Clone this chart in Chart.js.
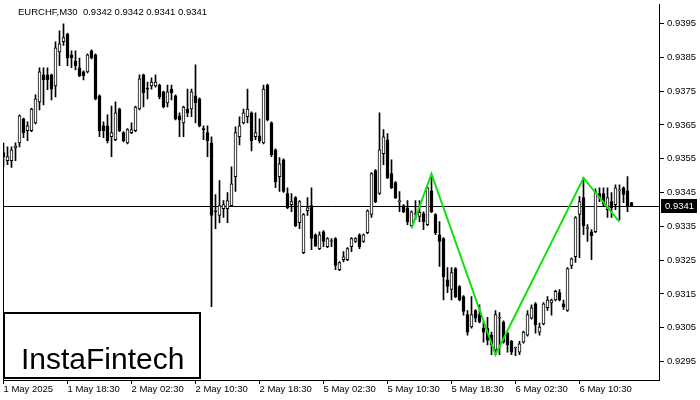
<!DOCTYPE html>
<html>
<head>
<meta charset="utf-8">
<script src="https://cdn.jsdelivr.net/npm/chart.js@4.4.1/dist/chart.umd.min.js"></script>
<style>
  html, body { margin: 0; padding: 0; background: #fff; }
  #wrap { width: 700px; height: 400px; }
</style>
</head>
<body>
<div id="wrap"><canvas id="chart" width="700" height="400"></canvas></div>
<script>
const symbol = 'EURCHF,M30';
const logoText = 'InstaFintech';

// one label every 16 bars (8 hours of M30)
const tickLabels = ['1 May 2025', '1 May 18:30', '2 May 02:30', '2 May 10:30', '2 May 18:30',
  '5 May 02:30', '5 May 10:30', '5 May 18:30', '6 May 02:30', '6 May 10:30'];
const labelStep = 16;
const priceTicks = [0.9295, 0.9305, 0.9315, 0.9325, 0.9335, 0.9345, 0.9355, 0.9365, 0.9375, 0.9385, 0.9395];

const opens = [
  0.93568, 0.93544, 0.93544, 0.93582, 0.93597, 0.93668, 0.93633, 0.93633, 0.93656, 0.93718,
  0.93798, 0.93798, 0.93798, 0.93765, 0.93866, 0.93896, 0.93919, 0.93857, 0.93839, 0.93819,
  0.93807, 0.93807, 0.93869, 0.93857, 0.93736, 0.93647, 0.93647, 0.93615, 0.93606, 0.93697,
  0.93627, 0.93597, 0.93627, 0.93633, 0.93697, 0.93798, 0.93758, 0.93765, 0.93765, 0.93768,
  0.93748, 0.93715, 0.93756, 0.93736, 0.93677, 0.93656, 0.93697, 0.93697, 0.93736, 0.93727,
  0.93638, 0.93627, 0.93597, 0.93395, 0.93382, 0.93402, 0.93402, 0.93411, 0.93497, 0.93615,
  0.93656, 0.93674, 0.93686, 0.93615, 0.93618, 0.93597, 0.93768, 0.93656, 0.93576, 0.93497,
  0.93547, 0.93447, 0.93414, 0.93435, 0.93361, 0.93272, 0.93396, 0.93411, 0.93325, 0.93284,
  0.93334, 0.93290, 0.93305, 0.93314, 0.93222, 0.93251, 0.93251, 0.93290, 0.93305, 0.93325,
  0.93305, 0.93331, 0.93385, 0.93515, 0.93447, 0.93565, 0.93606, 0.93506, 0.93479, 0.93423,
  0.93411, 0.93405, 0.93352, 0.93385, 0.93379, 0.93388, 0.93355, 0.93455, 0.93385, 0.93325,
  0.93314, 0.93192, 0.93163, 0.93225, 0.93172, 0.93142, 0.93089, 0.93052, 0.93101, 0.93089,
  0.93049, 0.93049, 0.93028, 0.92984, 0.93078, 0.93067, 0.93034, 0.93010, 0.92990, 0.92978,
  0.93007, 0.93028, 0.93078, 0.93121, 0.93037, 0.93061, 0.93109, 0.93123, 0.93132, 0.93154,
  0.93121, 0.93101, 0.93234, 0.93260, 0.93385, 0.93435, 0.93343, 0.93334, 0.93334, 0.93447,
  0.93447, 0.93399, 0.93423, 0.93414, 0.93455, 0.93464, 0.93455, 0.93420
];
const highs = [
  0.93597, 0.93585, 0.93585, 0.93597, 0.93680, 0.93670, 0.93659, 0.93700, 0.93739, 0.93819,
  0.93819, 0.93819, 0.93800, 0.93896, 0.93928, 0.93949, 0.93922, 0.93869, 0.93869, 0.93848,
  0.93810, 0.93860, 0.93872, 0.93860, 0.93739, 0.93659, 0.93680, 0.93706, 0.93718, 0.93700,
  0.93630, 0.93639, 0.93656, 0.93706, 0.93798, 0.93800, 0.93777, 0.93789, 0.93798, 0.93771,
  0.93750, 0.93768, 0.93768, 0.93739, 0.93686, 0.93706, 0.93756, 0.93756, 0.93828, 0.93730,
  0.93647, 0.93647, 0.93615, 0.93444, 0.93485, 0.93426, 0.93450, 0.93526, 0.93644, 0.93674,
  0.93697, 0.93756, 0.93689, 0.93686, 0.93668, 0.93768, 0.93771, 0.93659, 0.93579, 0.93553,
  0.93550, 0.93464, 0.93447, 0.93438, 0.93426, 0.93388, 0.93435, 0.93464, 0.93328, 0.93334,
  0.93337, 0.93317, 0.93314, 0.93317, 0.93246, 0.93275, 0.93287, 0.93317, 0.93317, 0.93328,
  0.93328, 0.93399, 0.93509, 0.93518, 0.93686, 0.93636, 0.93624, 0.93547, 0.93482, 0.93453,
  0.93414, 0.93426, 0.93396, 0.93426, 0.93426, 0.93393, 0.93467, 0.93503, 0.93388, 0.93364,
  0.93317, 0.93228, 0.93228, 0.93228, 0.93175, 0.93145, 0.93101, 0.93142, 0.93104, 0.93118,
  0.93067, 0.93081, 0.93037, 0.93101, 0.93095, 0.93070, 0.93037, 0.93013, 0.92993, 0.93010,
  0.93040, 0.93101, 0.93118, 0.93124, 0.93064, 0.93124, 0.93142, 0.93135, 0.93161, 0.93163,
  0.93132, 0.93228, 0.93257, 0.93379, 0.93438, 0.93494, 0.93355, 0.93340, 0.93461, 0.93464,
  0.93464, 0.93464, 0.93450, 0.93473, 0.93473, 0.93467, 0.93497, 0.93420
];
const lows = [
  0.93526, 0.93532, 0.93524, 0.93544, 0.93585, 0.93612, 0.93603, 0.93630, 0.93653, 0.93694,
  0.93709, 0.93754, 0.93724, 0.93733, 0.93825, 0.93885, 0.93825, 0.93819, 0.93813, 0.93793,
  0.93783, 0.93804, 0.93845, 0.93724, 0.93615, 0.93612, 0.93597, 0.93556, 0.93603, 0.93630,
  0.93600, 0.93594, 0.93624, 0.93630, 0.93694, 0.93703, 0.93727, 0.93756, 0.93762, 0.93727,
  0.93700, 0.93703, 0.93724, 0.93665, 0.93615, 0.93615, 0.93674, 0.93674, 0.93656, 0.93644,
  0.93606, 0.93556, 0.93112, 0.93343, 0.93361, 0.93376, 0.93361, 0.93408, 0.93453, 0.93591,
  0.93653, 0.93656, 0.93573, 0.93606, 0.93597, 0.93594, 0.93662, 0.93556, 0.93464, 0.93453,
  0.93450, 0.93402, 0.93393, 0.93349, 0.93343, 0.93269, 0.93382, 0.93281, 0.93290, 0.93281,
  0.93290, 0.93287, 0.93290, 0.93222, 0.93219, 0.93245, 0.93248, 0.93275, 0.93302, 0.93284,
  0.93302, 0.93328, 0.93376, 0.93420, 0.93444, 0.93532, 0.93491, 0.93461, 0.93432, 0.93393,
  0.93390, 0.93355, 0.93349, 0.93370, 0.93364, 0.93340, 0.93352, 0.93390, 0.93325, 0.93231,
  0.93132, 0.93154, 0.93132, 0.93139, 0.93129, 0.93087, 0.93028, 0.93049, 0.93067, 0.93064,
  0.93007, 0.92999, 0.92970, 0.92970, 0.92970, 0.93004, 0.92978, 0.92970, 0.92967, 0.92970,
  0.93004, 0.93025, 0.93075, 0.93034, 0.93028, 0.93058, 0.93101, 0.93087, 0.93129, 0.93129,
  0.93104, 0.93098, 0.93225, 0.93243, 0.93257, 0.93325, 0.93305, 0.93251, 0.93331, 0.93423,
  0.93408, 0.93376, 0.93376, 0.93399, 0.93370, 0.93420, 0.93393, 0.93410
];
const closes = [
  0.93556, 0.93556, 0.93576, 0.93588, 0.93677, 0.93627, 0.93647, 0.93697, 0.93727, 0.93807,
  0.93783, 0.93783, 0.93756, 0.93878, 0.93890, 0.93908, 0.93848, 0.93848, 0.93825, 0.93796,
  0.93796, 0.93857, 0.93848, 0.93727, 0.93633, 0.93633, 0.93603, 0.93627, 0.93686, 0.93633,
  0.93603, 0.93636, 0.93636, 0.93703, 0.93786, 0.93745, 0.93756, 0.93777, 0.93777, 0.93733,
  0.93703, 0.93748, 0.93745, 0.93668, 0.93665, 0.93703, 0.93686, 0.93748, 0.93715, 0.93647,
  0.93636, 0.93603, 0.93382, 0.93393, 0.93411, 0.93414, 0.93426, 0.93476, 0.93627, 0.93647,
  0.93686, 0.93697, 0.93603, 0.93627, 0.93603, 0.93756, 0.93665, 0.93562, 0.93482, 0.93535,
  0.93453, 0.93405, 0.93423, 0.93352, 0.93423, 0.93385, 0.93405, 0.93314, 0.93293, 0.93325,
  0.93305, 0.93314, 0.93307, 0.93234, 0.93243, 0.93260, 0.93284, 0.93314, 0.93314, 0.93290,
  0.93325, 0.93396, 0.93506, 0.93423, 0.93576, 0.93615, 0.93494, 0.93464, 0.93435, 0.93425,
  0.93393, 0.93364, 0.93393, 0.93387, 0.93391, 0.93364, 0.93464, 0.93393, 0.93331, 0.93305,
  0.93201, 0.93172, 0.93213, 0.93142, 0.93132, 0.93098, 0.93037, 0.93089, 0.93078, 0.93067,
  0.93037, 0.93013, 0.92999, 0.93089, 0.93081, 0.93007, 0.92999, 0.92978, 0.92992, 0.93002,
  0.93037, 0.93089, 0.93109, 0.93058, 0.93052, 0.93121, 0.93132, 0.93132, 0.93158, 0.93132,
  0.93112, 0.93225, 0.93254, 0.93376, 0.93423, 0.93352, 0.93345, 0.93322, 0.93453, 0.93435,
  0.93417, 0.93435, 0.93405, 0.93464, 0.93457, 0.93444, 0.93408, 0.93410
];

// green zigzag of the pattern: bar index and price of each corner
const patternIdx = [102, 107, 123, 145, 154];
const patternVal = [0.93344, 0.93505, 0.92970, 0.93493, 0.93363];

const FONT = "'Liberation Sans', Arial, sans-serif";
const FSIZE = 9.5;
const lastClose = closes[closes.length - 1];

const wicks = opens.map((o, i) => ({ x: i, y: [lows[i], highs[i]] }));
const bodies = opens.map((o, i) => ({ x: i, y: [o, closes[i]] }));
const bodyFill = opens.map((o, i) => closes[i] >= o ? '#ffffff' : '#000000');
const pattern = patternIdx.map((x, k) => ({ x: x, y: patternVal[k] }));

const decor = {
  id: 'decor',
  beforeDatasetsDraw(chart) {
    const { ctx, chartArea: a, scales: { y } } = chart;
    const py = Math.round(y.getPixelForValue(lastClose)) + 0.5;
    ctx.save();
    ctx.strokeStyle = '#000';
    ctx.lineWidth = 1;
    ctx.beginPath();
    ctx.moveTo(a.left, py);
    ctx.lineTo(a.right, py);
    // left edge line, as in the terminal picture
    const top = Math.round(y.getPixelForValue(highs[0]));
    ctx.moveTo(a.left, top);
    ctx.lineTo(a.left, a.bottom);
    ctx.stroke();
    ctx.restore();
  },
  afterDraw(chart) {
    const { ctx, chartArea: a, scales: { y } } = chart;
    const py = Math.round(y.getPixelForValue(lastClose));
    ctx.save();
    // bid price box on the axis
    ctx.fillStyle = '#000';
    ctx.fillRect(a.right + 2, py - 7, 36, 14);
    ctx.fillStyle = '#fff';
    ctx.font = FSIZE + 'px ' + FONT;
    ctx.textAlign = 'left';
    ctx.textBaseline = 'middle';
    ctx.fillText(lastClose.toFixed(4), a.right + 6, py + 0.5);

    // header with symbol and last OHLC
    const n = opens.length - 1;
    const ohlc = [opens[n], highs[n], lows[n], closes[n]].map(v => v.toFixed(4)).join(' ');
    ctx.fillStyle = '#000';
    ctx.fillText(symbol + '  ' + ohlc, 18, 12);

    // logo box
    ctx.fillStyle = '#fff';
    ctx.fillRect(4, 313, 196, 65);
    ctx.strokeStyle = '#000';
    ctx.lineWidth = 2;
    ctx.strokeRect(4, 313, 196, 65);
    ctx.fillStyle = '#000';
    ctx.font = "30px 'Liberation Sans', Arial, sans-serif";
    ctx.textBaseline = 'alphabetic';
    ctx.fillText(logoText, 21, 369);
    ctx.restore();
  }
};

new Chart(document.getElementById('chart'), {
  type: 'bar',
  data: {
    datasets: [
      {
        type: 'line',
        data: pattern,
        borderColor: '#11e011',
        borderWidth: 2,
        pointRadius: 0,
        tension: 0,
        order: 0
      },
      {
        data: bodies,
        backgroundColor: bodyFill,
        borderColor: '#000',
        borderWidth: 1,
        borderSkipped: false,
        barThickness: 3,
        minBarLength: 1,
        grouped: false,
        order: 1
      },
      {
        data: wicks,
        backgroundColor: '#000',
        borderWidth: 0,
        barThickness: 1,
        grouped: false,
        order: 2
      }
    ]
  },
  options: {
    responsive: false,
    animation: false,
    devicePixelRatio: 1,
    layout: { padding: { left: 3.5, top: 4, right: 0, bottom: 0 } },
    plugins: {
      legend: { display: false },
      tooltip: { enabled: false }
    },
    scales: {
      x: {
        type: 'linear',
        min: 0,
        max: 163.875,
        offset: false,
        afterBuildTicks(s) { s.ticks = tickLabels.map((t, k) => ({ value: k * labelStep })); },
        afterFit(s) { s.height = 20; s.paddingLeft = 0; s.paddingRight = 0; },
        ticks: {
          autoSkip: false,
          maxRotation: 0,
          align: 'start',
          padding: 0,
          color: '#000',
          font: { family: FONT, size: FSIZE },
          callback: v => tickLabels[Math.round(v / labelStep)]
        },
        grid: { drawOnChartArea: false, drawTicks: true, tickLength: 4, color: '#000', offset: false },
        border: { display: true, color: '#000' }
      },
      y: {
        position: 'right',
        min: 0.928953,
        max: 0.940077,
        afterBuildTicks(s) { s.ticks = priceTicks.map(v => ({ value: v })); },
        afterFit(s) { s.width = 41; s.paddingTop = 0; s.paddingBottom = 0; },
        ticks: {
          padding: 3,
          color: '#000',
          font: { family: FONT, size: FSIZE },
          callback: v => v.toFixed(4)
        },
        grid: { drawOnChartArea: false, drawTicks: true, tickLength: 5, color: '#000' },
        border: { display: true, color: '#000' }
      }
    }
  },
  plugins: [decor]
});
</script>
</body>
</html>
